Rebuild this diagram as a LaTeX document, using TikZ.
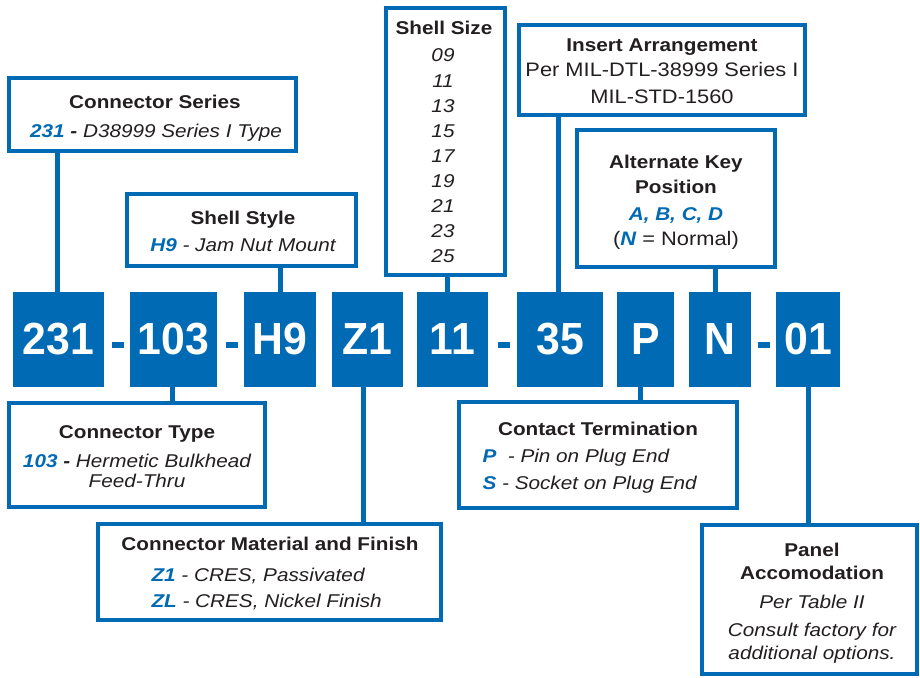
\documentclass[tikz,border=0pt]{standalone}
\usepackage{fontspec}
\setmainfont{Liberation Sans}
\newfontfamily\labelfont{Liberation Sans}[FakeStretch=1.12]
\newfontfamily\codefont{Liberation Sans}[FakeStretch=0.95]
\definecolor{partblue}{RGB}{0,106,180}
\definecolor{inkgrey}{RGB}{35,31,32}
\newcommand{\partcode}[1]{{\color{partblue}\bfseries\itshape #1}}

\begin{document}
\begin{tikzpicture}[x=1pt, y=-1pt,
    codebox/.style={fill=partblue, inner sep=0pt, minimum height=95pt, text=white,
      font=\codefont\fontsize{45}{45}\selectfont\bfseries},
    infobox/.style={draw=partblue, line width=4pt, fill=white, inner sep=0pt},
    link/.style={draw=partblue, line width=5pt},
    dashbar/.style={fill=partblue, inner sep=0pt, minimum width=12pt, minimum height=6pt},
    head/.style={anchor=base, text=inkgrey, font=\labelfont\fontsize{18.5}{20}\selectfont\bfseries},
    entry/.style={anchor=base, text=inkgrey, font=\labelfont\fontsize{18.5}{20}\selectfont\itshape},
    plain/.style={anchor=base, text=inkgrey, font=\labelfont\fontsize{19.5}{22}\selectfont},
  ]
  \useasboundingbox (0,0) rectangle (920,677);

  % part number boxes
  \node[codebox, minimum width=91pt] (c231) at (58.5,339.5) {231};
  \node[codebox, minimum width=87pt] (c103) at (173.5,339.5) {103};
  \node[codebox, minimum width=72pt] (cH9)  at (280,339.5) {H9};
  \node[codebox, minimum width=71pt] (cZ1)  at (367.5,339.5) {Z1};
  \node[codebox, minimum width=71pt] (c11)  at (452.5,339.5) {11};
  \node[codebox, minimum width=86pt] (c35)  at (560,339.5) {35};
  \node[codebox, minimum width=57pt] (cP)   at (645.5,339.5) {P};
  \node[codebox, minimum width=62pt] (cN)   at (720,339.5) {N};
  \node[codebox, minimum width=64pt] (c01)  at (808,339.5) {01};

  \node[dashbar] (d1) at (118,345) {};
  \node[dashbar] (d2) at (231.5,345) {};
  \node[dashbar] (d3) at (504,345) {};
  \node[dashbar] (d4) at (763.5,345) {};

  % description boxes
  \node[infobox, minimum width=287pt, minimum height=73pt]  (series)   at (152.5,114.5) {};
  \node[infobox, minimum width=229pt, minimum height=72pt]  (style)    at (241.5,230) {};
  \node[infobox, minimum width=119pt, minimum height=267pt] (size)     at (445.5,141.5) {};
  \node[infobox, minimum width=286pt, minimum height=90pt]  (insert)   at (662,70) {};
  \node[infobox, minimum width=198pt, minimum height=137pt] (altkey)   at (676,198.5) {};
  \node[infobox, minimum width=256pt, minimum height=104pt] (ctype)    at (137,455) {};
  \node[infobox, minimum width=343pt, minimum height=96pt]  (material) at (269.5,572) {};
  \node[infobox, minimum width=278pt, minimum height=106pt] (contact)  at (598,455) {};
  \node[infobox, minimum width=215pt, minimum height=149pt] (panel)    at (809.5,599.5) {};

  % connectors
  \draw[link] ([xshift=-1.5pt]c231.north) -- ([xshift=-1.5pt]c231.north |- series.south);
  \draw[link] ([xshift=-1.5pt]c103.south) -- ([xshift=-1.5pt]c103.south |- ctype.north);
  \draw[link] (cH9.north) -- (cH9.north |- style.south);
  \draw[link] ([xshift=-4.5pt]cZ1.south) -- ([xshift=-4.5pt]cZ1.south |- material.north);
  \draw[link] ([xshift=-5.5pt]c11.north) -- ([xshift=-5.5pt]c11.north |- size.south);
  \draw[link] ([xshift=-2pt]c35.north) -- ([xshift=-2pt]c35.north |- insert.south);
  \draw[link] ([xshift=-5.5pt]cP.south) -- ([xshift=-5.5pt]cP.south |- contact.north);
  \draw[link] ([xshift=-5pt]cN.north) -- ([xshift=-5pt]cN.north |- altkey.south);
  \draw[link] (c01.south) -- (c01.south |- panel.north);

  % texts
  \node[head] (seriesT) at (155,108) {Connector Series};
  \node[entry] (seriesA) at (156,137) {\partcode{231} \textbf{-} D38999 Series I Type};

  \node[head] (styleT) at (243,224) {Shell Style};
  \node[entry] (styleA) at (243,251) {\partcode{H9} - Jam Nut Mount};

  \node[head] (sizeT) at (444,35) {Shell Size};
  \foreach \s [count=\i from 0] in {09,11,13,15,17,19,21,23,25}
    \node[entry] (size\s) at (443,62+25.1*\i) {\s};

  \node[head] (insertT) at (662,52) {Insert Arrangement};
  \node[plain] (insertA) at (662,77) {Per MIL-DTL-38999 Series I};
  \node[plain] (insertB) at (662,103) {MIL-STD-1560};

  \node[head] (altkeyT) at (676,168) {Alternate Key};
  \node[head] (altkeyU) at (676,193) {Position};
  \node[entry] (altkeyA) at (676,220) {\partcode{A, B, C, D}};
  \node[plain] (altkeyB) at (676,245) {(\partcode{N} = Normal)};

  \node[head] (ctypeT) at (137,438) {Connector Type};
  \node[entry] (ctypeA) at (137,467) {\partcode{103} \textbf{-} Hermetic Bulkhead};
  \node[entry] (ctypeB) at (137,487) {Feed-Thru};

  \node[head] (materialT) at (270,550) {Connector Material and Finish};
  \node[entry, anchor=base west] (materialA) at (148,581) {\partcode{Z1} - CRES, Passivated};
  \node[entry, anchor=base west] (materialB) at (148,607) {\partcode{ZL} - CRES, Nickel Finish};

  \node[head] (contactT) at (598,435) {Contact Termination};
  \node[entry, anchor=base west] (contactA) at (479,462) {\partcode{P}\ \ - Pin on Plug End};
  \node[entry, anchor=base west] (contactB) at (479,489) {\partcode{S} - Socket on Plug End};

  \node[head] (panelT) at (812,556) {Panel};
  \node[head] (panelU) at (812,579) {Accomodation};
  \node[entry] (panelA) at (812,608) {Per Table II};
  \node[entry] (panelB) at (812,636) {Consult factory for};
  \node[entry] (panelC) at (812,659) {additional options.};
\end{tikzpicture}
\end{document}
